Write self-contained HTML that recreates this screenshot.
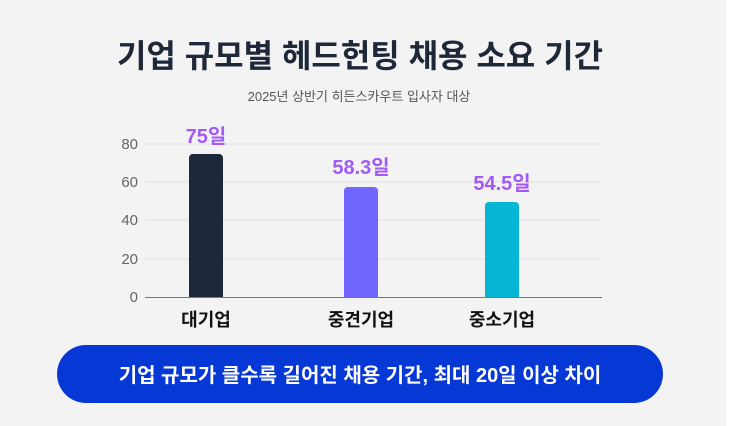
<!DOCTYPE html>
<html><head><meta charset="utf-8"><style>
html,body{margin:0;padding:0;width:738px;height:426px;background:#fff;overflow:hidden}
</style></head><body>
<svg width="738" height="426" xmlns="http://www.w3.org/2000/svg" style="font-family:'Liberation Sans','Noto Sans CJK KR',sans-serif">
<rect x="-20" y="-20" width="746" height="460" rx="14" fill="#f3f3f3"/>
<text x="360" y="67" text-anchor="middle" font-size="32" font-weight="700" fill="#1e2838">기업 규모별 헤드헌팅 채용 소요 기간</text>
<text x="359" y="101" text-anchor="middle" font-size="13" fill="#555">2025년 상반기 히든스카우트 입사자 대상</text>
<g stroke="#e0e0e0" stroke-width="1">
<line x1="145" y1="144" x2="602" y2="144"/><line x1="145" y1="182" x2="602" y2="182"/>
<line x1="145" y1="220" x2="602" y2="220"/><line x1="145" y1="259" x2="602" y2="259"/>
</g>
<g font-size="15" fill="#666" text-anchor="end">
<text x="138" y="149">80</text><text x="138" y="187">60</text><text x="138" y="225">40</text><text x="138" y="264">20</text><text x="138" y="302">0</text>
</g>
<path d="M189 297V158a4 4 0 0 1 4-4h26a4 4 0 0 1 4 4V297Z" fill="#1e283a"/>
<path d="M344 297V191a4 4 0 0 1 4-4h26a4 4 0 0 1 4 4V297Z" fill="#7066ff"/>
<path d="M485 297V206a4 4 0 0 1 4-4h26a4 4 0 0 1 4 4V297Z" fill="#06b6d4"/>
<line x1="145" y1="297.5" x2="602" y2="297.5" stroke="#777" stroke-width="1"/>
<g font-size="20" font-weight="700" fill="#a259f7" text-anchor="middle">
<text x="206" y="143">75일</text><text x="361" y="174">58.3일</text><text x="502" y="190">54.5일</text>
</g>
<g font-size="18" font-weight="700" fill="#111" text-anchor="middle">
<text x="206" y="326">대기업</text><text x="361" y="326">중견기업</text><text x="502" y="326">중소기업</text>
</g>
<rect x="57" y="345" width="606" height="58" rx="29" fill="#0638d6"/>
<text x="360" y="382" text-anchor="middle" font-size="20" font-weight="700" fill="#fff">기업 규모가 클수록 길어진 채용 기간, 최대 20일 이상 차이</text>
</svg>
</body></html>
